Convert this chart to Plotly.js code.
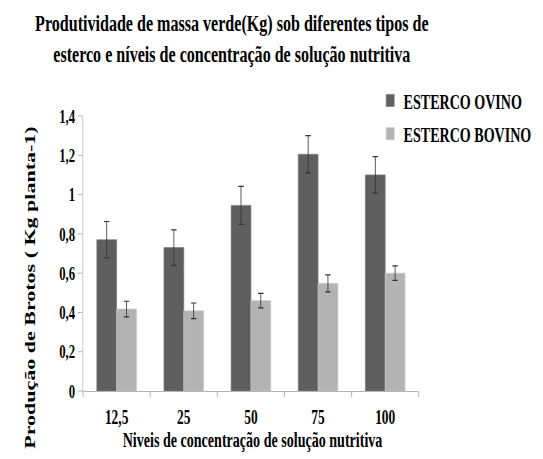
<!DOCTYPE html>
<html>
<head>
<meta charset="utf-8">
<script src="https://cdn.plot.ly/plotly-3.0.1.min.js"></script>
<style>
  html, body { margin: 0; padding: 0; overflow: hidden; background: #fff; width: 543px; height: 459px; }
  #chart { width: 810px; height: 459px; transform: scaleX(0.67); transform-origin: 0 0; }
</style>
</head>
<body>
<div id="chart"></div>
<script>
// Data
const categories = ["12,5", "25", "50", "75", "100"];
const seriesNames = ["ESTERCO OVINO", "ESTERCO BOVINO"];
const ovino = [0.77, 0.73, 0.945, 1.205, 1.10];
const ovinoErr = [0.093, 0.09, 0.097, 0.095, 0.093];
const bovino = [0.417, 0.408, 0.46, 0.548, 0.60];
const bovinoErr = [0.04, 0.04, 0.037, 0.043, 0.037];
const yTicks = [0, 0.2, 0.4, 0.6, 0.8, 1, 1.2, 1.4];
const yTickText = ["0", "0,2", "0,4", "0,6", "0,8", "1", "1,2", "1,4"];
const xTitle = "Niveis de concentração de solução nutritiva";
const yTitle = "Produção de Brotos ( Kg planta-1)";

const serif = "'Liberation Serif', 'Times New Roman', serif";

const traces = [
  {
    type: "bar", name: seriesNames[0], x: categories, y: ovino,
    legendgroup: "a",
    marker: { color: "#5f5f5f", line: { color: "#7a7a7a", width: 0.8 } },
    error_y: { type: "data", array: ovinoErr, visible: true, color: "#333333", thickness: 1.2, width: 4 }
  },
  {
    type: "bar", name: seriesNames[1], x: categories, y: bovino,
    legendgroup: "b",
    marker: { color: "#b3b3b3", line: { color: "#c8c8c8", width: 0.8 } },
    error_y: { type: "data", array: bovinoErr, visible: true, color: "#333333", thickness: 1.2, width: 4 }
  }
];

const layout = {
  width: 810, height: 459,
  margin: { l: 124, r: 180, t: 116, b: 68 },
  paper_bgcolor: "#ffffff", plot_bgcolor: "#ffffff",
  font: { family: serif, color: "#000000", weight: "bold" },
  barmode: "group", bargap: 0.41, bargroupgap: 0,
  title: {
    text: "Produtividade de massa verde(Kg) sob diferentes tipos de<br>esterco e níveis de concentração de solução nutritiva",
    font: { family: serif, size: 24, color: "#000", weight: "bold" },
    x: 346 / 810, xanchor: "center", xref: "container",
    y: 1 - 31 / 459, yanchor: "top", yref: "container"
  },
  xaxis: {
    type: "category",
    showline: true, linecolor: "#a6a6a6", linewidth: 1,
    ticks: "outside", tickson: "boundaries", ticklen: 5, tickcolor: "#a6a6a6",
    tickfont: { family: serif, size: 20, color: "#000", weight: "bold" },
    ticklabelstandoff: 8,
    showgrid: false, zeroline: false
  },
  yaxis: {
    range: [0, 1.4], tickvals: yTicks, ticktext: yTickText,
    showline: true, linecolor: "#bfbfbf", linewidth: 1,
    ticks: "outside", ticklen: 7, tickcolor: "#a6a6a6",
    tickfont: { family: serif, size: 19, color: "#000", weight: "bold" },
    showgrid: false, zeroline: false
  },
  legend: {
    x: 0.875, xanchor: "left", y: 1.13, yanchor: "top",
    font: { family: serif, size: 21, color: "#000", weight: "bold" },
    traceorder: "grouped", tracegroupgap: 3,
    bgcolor: "rgba(0,0,0,0)"
  },
  annotations: [
    {
      text: yTitle,
      textangle: -90, showarrow: false,
      xref: "paper", yref: "paper",
      x: (43 - 124) / 506, xanchor: "center",
      y: (391 - 288) / 275, yanchor: "middle",
      font: { family: serif, size: 22, color: "#000", weight: "bold" }
    },
    {
      text: xTitle,
      showarrow: false,
      xref: "paper", yref: "paper",
      x: (380 - 124) / 506, xanchor: "center",
      y: (391 - 440) / 275, yanchor: "middle",
      font: { family: serif, size: 21, color: "#000", weight: "bold" }
    }
  ],
  showlegend: true
};

Plotly.newPlot("chart", traces, layout, { displayModeBar: false, staticPlot: true });
</script>
</body>
</html>
